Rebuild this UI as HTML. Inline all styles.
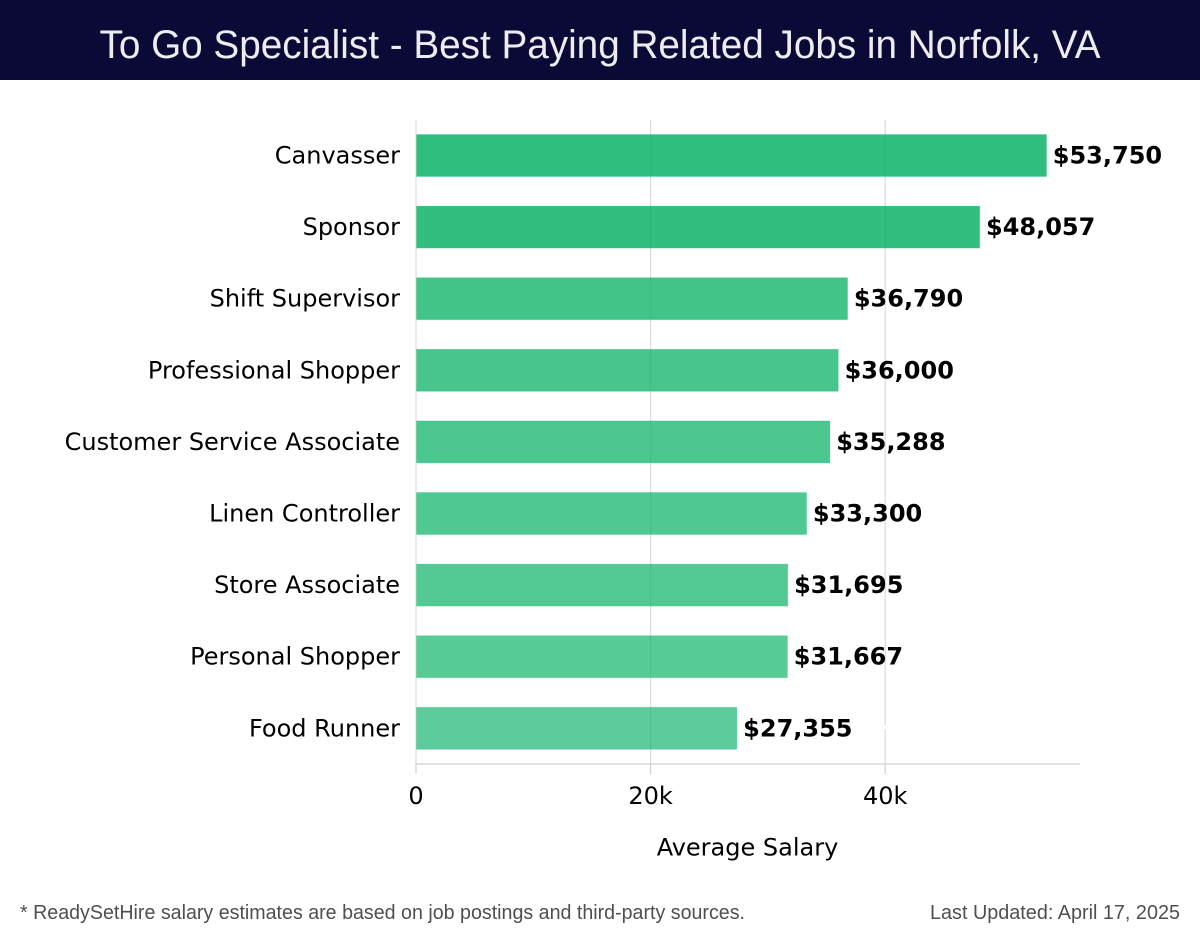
<!DOCTYPE html>
<html lang="en">
<head>
<meta charset="utf-8">
<title>To Go Specialist - Best Paying Related Jobs in Norfolk, VA</title>
<style>
html,body{margin:0;padding:0;background:#fff;width:1200px;height:940px;overflow:hidden}
svg{display:block}
text{font-family:"DejaVu Sans","Liberation Sans",sans-serif}
</style>
</head>
<body>
<svg id="chart" xmlns="http://www.w3.org/2000/svg" width="1200" height="940" viewBox="0 0 1200 940">
  <rect x="0" y="0" width="1200" height="80" fill="#ffffff"/>
  <rect x="0" y="0" width="1200" height="80" fill="#0b0a37"/>
  <text x="600" y="58" text-anchor="middle" fill="#ffffff" fill-opacity="0.93" font-size="40" textLength="1001" lengthAdjust="spacingAndGlyphs" style="font-family:'Liberation Sans',sans-serif">To Go Specialist - Best Paying Related Jobs in Norfolk, VA</text>
  <g id="grid"></g>
  <rect x="883" y="725" width="4" height="4" fill="#ffffff"/>
  <g id="bars"></g>
  <g id="axes"></g>
  <text x="747.5" y="855.5" text-anchor="middle" font-size="24" fill="#000000">Average Salary</text>
  <text x="20" y="919" font-size="20" fill="#4f4f4f" textLength="725" lengthAdjust="spacingAndGlyphs" style="font-family:'Liberation Sans',sans-serif">* ReadySetHire salary estimates are based on job postings and third-party sources.</text>
  <text x="1180" y="919" font-size="20" fill="#4f4f4f" text-anchor="end" textLength="250" lengthAdjust="spacingAndGlyphs" style="font-family:'Liberation Sans',sans-serif">Last Updated: April 17, 2025</text>
</svg>
<script>
const categories = ["Canvasser","Sponsor","Shift Supervisor","Professional Shopper","Customer Service Associate","Linen Controller","Store Associate","Personal Shopper","Food Runner"];
const salaries = [53750,48057,36790,36000,35288,33300,31695,31667,27355];
const tickValues = [0,20000,40000];
const tickLabels = ["0","20k","40k"];

const NS = "http://www.w3.org/2000/svg";
const plot = {left:416, right:1080, top:120, bottom:764, first:155.5, step:71.6, barH:42};
function xScale(v){ return plot.left + v * 234.6 / 20000; }
function yScale(i){ return plot.first + i * plot.step; }
function make(tag, attrs, parent, txt){
  const el = document.createElementNS(NS, tag);
  for (const k in attrs) el.setAttribute(k, attrs[k]);
  if (txt !== undefined) el.textContent = txt;
  parent.appendChild(el);
  return el;
}
function money(v){ return "$" + v.toLocaleString("en-US"); }

const grid = document.getElementById("grid");
const barsG = document.getElementById("bars");
const axes = document.getElementById("axes");

tickValues.forEach(function(t){
  const line = make("line", {x1:xScale(t), x2:xScale(t), y1:plot.top, y2:plot.bottom, stroke:"#dcdcdc", "stroke-width":1.2}, grid);
  
  
});

categories.forEach(function(c, i){
  const v = salaries[i];
  const y = yScale(i);
  const op = i < 2 ? 0.86 - i * 0.01 : 0.78 - (i - 2) * 0.018;
  const bar = make("rect", {x:xScale(0) + 0.5, y:y - plot.barH / 2, width:xScale(v) - xScale(0) - 0.5, height:plot.barH, fill:"#0db368", "fill-opacity":op, stroke:"#0db368", "stroke-opacity":0.2, "stroke-width":1}, barsG);
  
  
  const val = make("text", {x:xScale(v) + 6.3, y:y + 8, "font-size":24, "font-weight":"bold", fill:"#000000"}, barsG, money(v));
  
  
  const lab = make("text", {x:400, y:y + 8, "text-anchor":"end", "font-size":24, fill:"#000000"}, axes, c);
  
  
});

const axisLine = make("line", {x1:plot.left, x2:plot.right, y1:plot.bottom, y2:plot.bottom, stroke:"#d0d0d0", "stroke-width":1.2}, axes);



tickValues.forEach(function(t, i){
  const tick = make("line", {x1:xScale(t), x2:xScale(t), y1:plot.bottom, y2:plot.bottom + 10, stroke:"#d0d0d0", "stroke-width":1.2}, axes);
  
  
  const lab = make("text", {x:xScale(t), y:804, "text-anchor":"middle", "font-size":24, fill:"#000000"}, axes, tickLabels[i]);
  
  
});
</script>
</body>
</html>
